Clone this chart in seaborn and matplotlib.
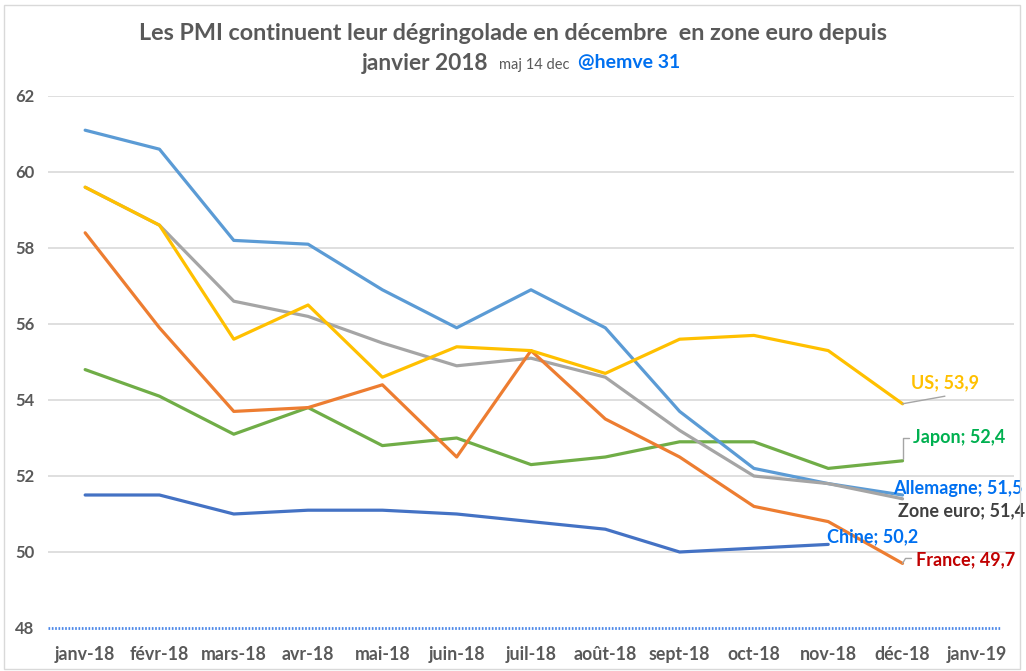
import matplotlib.pyplot as plt
import matplotlib.patches as mpatches
import pandas as pd
import seaborn as sns

months = ["janv-18", "févr-18", "mars-18", "avr-18", "mai-18", "juin-18", "juil-18",
          "août-18", "sept-18", "oct-18", "nov-18", "déc-18", "janv-19"]

chine = [51.5, 51.5, 51.0, 51.1, 51.1, 51.0, 50.8, 50.6, 50.0, 50.1, 50.2, None]
japon = [54.8, 54.1, 53.1, 53.8, 52.8, 53.0, 52.3, 52.5, 52.9, 52.9, 52.2, 52.4]
allemagne = [61.1, 60.6, 58.2, 58.1, 56.9, 55.9, 56.9, 55.9, 53.7, 52.2, 51.8, 51.5]
zone_euro = [59.6, 58.6, 56.6, 56.2, 55.5, 54.9, 55.1, 54.6, 53.2, 52.0, 51.8, 51.4]
france = [58.4, 55.9, 53.7, 53.8, 54.4, 52.5, 55.3, 53.5, 52.5, 51.2, 50.8, 49.7]
us = [59.6, 58.6, 55.6, 56.5, 54.6, 55.4, 55.3, 54.7, 55.6, 55.7, 55.3, 53.9]

series = {"Chine": chine, "Japon": japon, "Allemagne": allemagne,
          "Zone euro": zone_euro, "France": france, "US": us}
line_colors = {"Chine": "#4472C4", "Japon": "#70AD47", "Allemagne": "#5B9BD5",
               "Zone euro": "#A5A5A5", "France": "#ED7D31", "US": "#FFC000"}

rows = []
for name, vals in series.items():
    for i, v in enumerate(vals):
        rows.append({"pays": name, "x": i, "pmi": v})
df = pd.DataFrame(rows).dropna()

sns.set_theme(style="white")
plt.rcParams["font.family"] = ["Lato", "DejaVu Sans"]

fig = plt.figure(figsize=(10.26, 6.71), dpi=100)
ax = fig.add_axes([48 / 1026, 43 / 671, 966 / 1026, 532 / 671])

for y in range(50, 63, 2):
    ax.axhline(y, color="#D9D9D9", lw=1.2, zorder=0)
ax.axhline(48, xmin=0, xmax=(1001 - 48) / 966, color="#4A86E8", lw=2,
           linestyle=(0, (0.6, 0.6)), zorder=1, clip_on=False)

sns.lineplot(data=df, x="x", y="pmi", hue="pays", hue_order=list(series),
             palette=line_colors, lw=2.3, legend=False, sort=False, ax=ax)

ax.set_xlim(-0.5, 12.5)
ax.set_ylim(48, 62)
ax.set_xticks(range(len(months)))
ax.set_xticklabels(months, fontsize=12.8, fontweight="bold", color="#595959")
ax.set_xticks([i - 0.5 for i in range(len(months) + 1)], minor=True)
ax.tick_params(axis="x", which="major", length=0, pad=13)
ax.tick_params(axis="x", which="minor", length=5, color="#D9D9D9", width=1)
ax.set_yticks(range(48, 63, 2))
ax.set_yticklabels([str(v) for v in range(48, 63, 2)], fontsize=12,
                   fontweight="bold", color="#595959")
ax.tick_params(axis="y", length=0, pad=10)
ax.set_xlabel("")
ax.set_ylabel("")
for s in ax.spines.values():
    s.set_visible(False)

# labels at the end of the lines
lab = dict(fontsize=13, fontweight="bold", ha="left", va="center", clip_on=False)
ax.text(11.12, 54.45, "US; 53,9", color="#FFC000", **lab)
ax.plot([11, 11.57], [53.9, 54.1], color="#A5A5A5", lw=1)
ax.text(11.14, 53.0, "Japon; 52,4", color="#00B050", **lab)
ax.plot([11, 11, 11.09], [52.45, 53.0, 53.0], color="#A5A5A5", lw=1)
ax.text(10.87, 51.68, "Allemagne; 51,5", color="#0070F0", **lab)
ax.text(10.94, 51.08, "Zone euro; 51,4", color="#404040", **lab)
ax.text(9.99, 50.39, "Chine; 50,2", color="#0070F0", **lab)
ax.text(11.18, 49.79, "France; 49,7", color="#C00000", **lab)
ax.plot([11, 11.04, 11.12], [49.7, 49.83, 49.83], color="#A5A5A5", lw=1)

fig.text(0.5, 1 - 33 / 671, "Les PMI continuent leur dégringolade en décembre  en zone euro depuis",
         ha="center", va="center", fontsize=16.8, fontweight="bold", color="#595959")
fig.text(362 / 1026, 1 - 63 / 671, "janvier 2018", ha="left", va="center",
         fontsize=16.3, fontweight="bold", color="#595959")
fig.text(499 / 1026, 1 - 65 / 671, "maj 14 dec", ha="left", va="center",
         fontsize=10.5, color="#595959")
fig.text(578 / 1026, 1 - 63 / 671, "@hemve 31", ha="left", va="center",
         fontsize=14, fontweight="bold", color="#0070F0")

fig.patches.append(mpatches.Rectangle((4 / 1026, 2 / 671), 1016 / 1026, 664 / 671,
                                      transform=fig.transFigure, fill=False,
                                      edgecolor="#D9D9D9", lw=1))

fig.savefig("out.png", dpi=100)
